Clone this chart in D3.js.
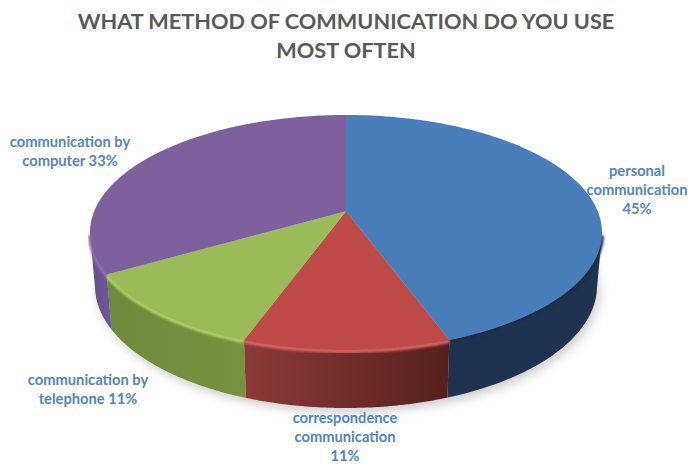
<!DOCTYPE html>
<html>
<head>
<meta charset="utf-8">
<script src="https://cdn.jsdelivr.net/npm/d3@7"></script>
<style>
html,body{margin:0;padding:0;background:#fff}
svg{display:block}
text{font-family:Lato,"Open Sans",sans-serif;font-weight:700}
</style>
</head>
<body>
<svg id="chart" width="693" height="464"></svg>
<script>
// Survey results
const categories = ["personal communication", "correspondence communication", "communication by telephone", "communication by computer"];
const values = [45, 11, 11, 33];
const topColors = ["#4a7ebb", "#be4b48", "#9bbb59", "#7f609f"];
const wallLeft = ["#1f3350", "#8c3a37", "#6f8a3e", "#65508c"];
const wallRight = ["#1f3350", "#55201e", "#76933f", "#6f5496"];
const rimColors = ["#1b2d47", "#dc625d", "#aed063", "#8f72b4"];
const titleLines = ["WHAT METHOD OF COMMUNICATION DO YOU USE", "MOST OFTEN"];
const labelLines = [
  ["personal", "communication", "45%"],
  ["correspondence", "communication", "11%"],
  ["communication by", "telephone 11%"],
  ["communication by", "computer 33%"]
];
const labelAnchors = [[637, 176], [345, 423], [88, 385], [70, 147]];

const svg = d3.select("#chart");
const defs = svg.append("defs");
defs.append("filter").attr("id", "soft").attr("x", "-10%").attr("y", "-10%").attr("width", "120%").attr("height", "120%")
  .append("feGaussianBlur").attr("stdDeviation", 1.2);
defs.append("filter").attr("id", "shadow").attr("x", "-20%").attr("y", "-20%").attr("width", "140%").attr("height", "140%")
  .append("feGaussianBlur").attr("stdDeviation", 5);

// Tilted disc: x/y scales map the unit circle to the top face and to the base.
const topX = d3.scaleLinear().domain([-1, 1]).range([90, 602]);
const topY = d3.scaleLinear().domain([-1, 1]).range([115, 350]);
const baseX = d3.scaleLinear().domain([-1, 1]).range([95, 597]);
const baseY = d3.scaleLinear().domain([-1, 1]).range([164, 408]);

// Perspective shift of the disc centre toward the far rim; keeps the rim on the unit circle.
const shift = -0.18;
const skew = 2 * Math.PI / 180;
function project(angle, radius = 1) {
  const t = angle - skew * (1 - Math.cos(angle)) / 2;
  const u = radius * Math.sin(t), v = -radius * Math.cos(t);
  const d = 1 + v * shift;
  return [u * Math.sqrt(1 - shift * shift) / d, (v + shift) / d];
}

const pie = d3.pie().sort(null)(values);
const samples = a => d3.range(0, 121).map(i => a.startAngle + (a.endAngle - a.startAngle) * i / 120);
const line = d3.line();
const onTop = p => [topX(p[0]), topY(p[1])];
const onBase = p => [baseX(p[0]), baseY(p[1])];
const front = a => samples(a).map(t => project(t)).filter(p => p[1] >= 0);

// Soft ground shadow under the base
svg.append("path")
  .attr("d", line(d3.range(0, 181).map(i => project(i / 180 * 2 * Math.PI)).map(p => [baseX(p[0]) + 3, baseY(p[1]) + 5])) + "Z")
  .attr("fill", "#9a9a9a").attr("opacity", 0.45).attr("filter", "url(#shadow)");

// Side walls
pie.forEach((a, i) => {
  const pts = front(a);
  if (!pts.length) return;
  const xs = pts.map(p => topX(p[0]));
  const id = "wall" + i;
  const g = defs.append("linearGradient").attr("id", id).attr("gradientUnits", "userSpaceOnUse")
    .attr("x1", d3.min(xs)).attr("x2", d3.max(xs)).attr("y1", 0).attr("y2", 0);
  g.append("stop").attr("offset", 0).attr("stop-color", wallLeft[i]);
  g.append("stop").attr("offset", 1).attr("stop-color", wallRight[i]);
  svg.append("path")
    .attr("d", line(pts.map(onTop).concat(pts.slice().reverse().map(onBase))) + "Z")
    .attr("fill", `url(#${id})`);
});

// Bevel along the front rim
pie.forEach((a, i) => {
  const pts = front(a);
  if (!pts.length) return;
  svg.append("path")
    .attr("d", line(pts.map(p => { const q = onTop(p); return [q[0], q[1] + 1]; })))
    .attr("fill", "none").attr("stroke", rimColors[i]).attr("stroke-width", 4)
    .attr("filter", "url(#soft)");
});

// Top face slices
pie.forEach((a, i) => {
  const rim = samples(a).map(t => onTop(project(t)));
  const apex = onTop(project(0, 0));
  svg.append("path").attr("d", line([apex, ...rim]) + "Z").attr("fill", topColors[i]);
});

// Title
svg.append("g").selectAll("text").data(titleLines).join("text")
  .attr("x", 346).attr("y", (d, i) => 29 + i * 29)
  .attr("text-anchor", "middle").attr("font-size", 21.7).attr("fill", "#595959")
  .text(d => d);

// Data labels
categories.forEach((c, i) => {
  svg.append("g").attr("class", "label").selectAll("text").data(labelLines[i]).join("text")
    .attr("x", labelAnchors[i][0]).attr("y", (d, k) => labelAnchors[i][1] + k * 19)
    .attr("text-anchor", "middle").attr("font-size", 14.7).attr("fill", "#5585bd")
    .text(d => d);
});
</script>
</body>
</html>
